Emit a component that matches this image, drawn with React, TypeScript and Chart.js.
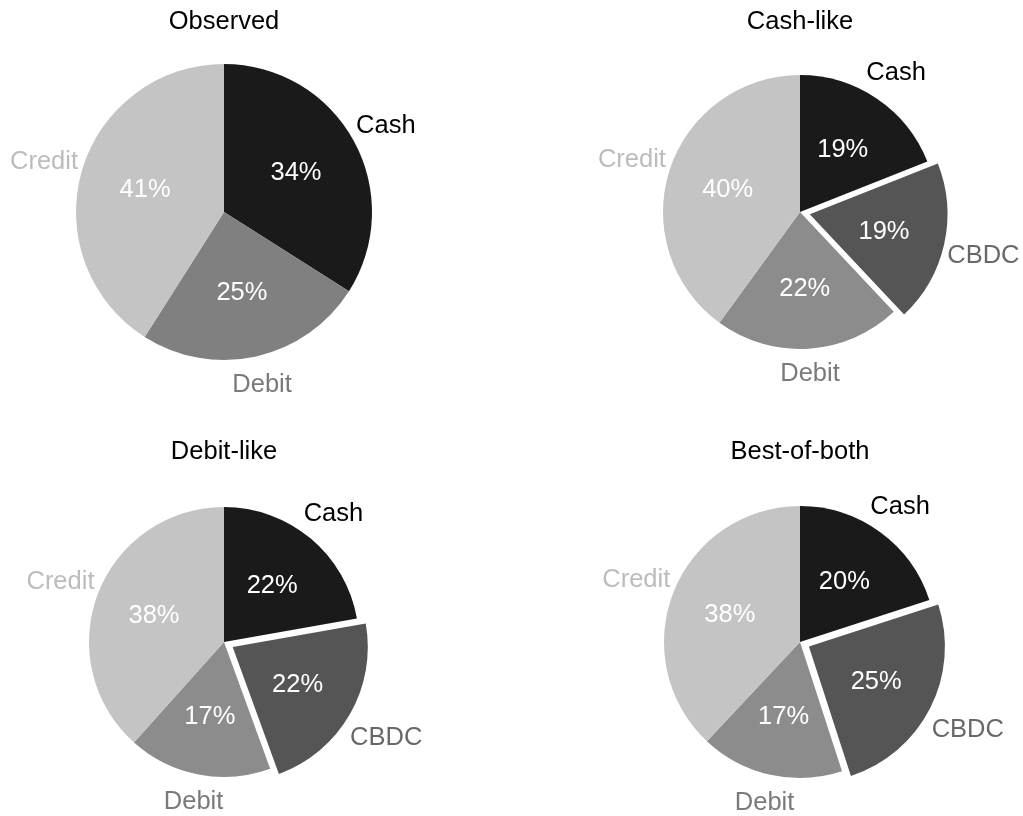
import React, { useEffect, useRef } from "react";
import { Chart, registerables } from "chart.js";

Chart.register(...registerables);

// ---- data ----
const chartTitles = ["Observed", "Cash-like", "Debit-like", "Best-of-both"];
const observedCategories = ["Cash", "Debit", "Credit"];
const scenarioCategories = ["Cash", "CBDC", "Debit", "Credit"];
const observedValues = [34, 25, 41];
const cashLikeValues = [19, 19, 22, 40];
const debitLikeValues = [22, 22, 17, 38];
const bestOfBothValues = [20, 25, 17, 38];
const explodedCategory = "CBDC";

// ---- styles ----
const FONT = '"Liberation Sans", Arial, Helvetica, sans-serif';
const FONT_SIZE = 25.5;
const sliceColors: Record<string, string> = {
  Cash: "#1a1a1a",
  CBDC: "#555555",
  Debit: "#8c8c8c",
  Credit: "#c4c4c4",
};
const observedDebitColor = "#808080";
const labelColors: Record<string, string> = {
  Cash: "#000000",
  CBDC: "#686868",
  Debit: "#7a7a7a",
  Credit: "#bcbcbc",
};

type PieSpec = {
  title: string;
  categories: string[];
  values: number[];
  radius: number;
  left: number;
  top: number;
  observed: boolean;
};

const CANVAS_W = 448;
const CANVAS_H = 424;

const pieSpecs: PieSpec[] = [
  { title: chartTitles[0], categories: observedCategories, values: observedValues, radius: 148, left: 0, top: 0, observed: true },
  { title: chartTitles[1], categories: scenarioCategories, values: cashLikeValues, radius: 137, left: 576, top: 0, observed: false },
  { title: chartTitles[2], categories: scenarioCategories, values: debitLikeValues, radius: 135, left: 0, top: 430, observed: false },
  { title: chartTitles[3], categories: scenarioCategories, values: bestOfBothValues, radius: 136, left: 576, top: 430, observed: false },
];

function makeLabelPlugin(spec: PieSpec) {
  return {
    id: "pieLabels",
    afterDatasetsDraw(chart: any) {
      const ctx: CanvasRenderingContext2D = chart.ctx;
      const meta = chart.getDatasetMeta(0);
      ctx.save();
      ctx.font = `${FONT_SIZE}px ${FONT}`;
      // title
      ctx.fillStyle = "#000000";
      ctx.textAlign = "center";
      ctx.textBaseline = "alphabetic";
      const cx = (chart.chartArea.left + chart.chartArea.right) / 2;
      ctx.fillText(spec.title, cx, 29);

      ctx.textBaseline = "middle";
      meta.data.forEach((el: any, i: number) => {
        const p = el.getProps(["x", "y", "startAngle", "endAngle", "outerRadius"], true);
        const mid = (p.startAngle + p.endAngle) / 2;
        const shift = (el.options.offset || 0) / 4;
        const r = p.outerRadius;
        const ux = Math.cos(mid);
        const uy = Math.sin(mid);
        // percentage inside
        const v = chart.data.datasets[0].data[i];
        const pd = 0.555 * r + shift;
        ctx.fillStyle = "#ffffff";
        ctx.textAlign = "center";
        ctx.fillText(`${v}%`, p.x + ux * pd, p.y + uy * pd + 1);
        // category label outside
        const label = chart.data.labels[i];
        const halfW = ctx.measureText(label).width / 2;
        const ld = r + shift + 1.5 + halfW * Math.abs(ux) + 19 * Math.abs(uy);
        ctx.fillStyle = labelColors[label];
        ctx.fillText(label, p.x + ux * ld, p.y + uy * ld + 2.5);
      });
      ctx.restore();
    },
  };
}

function PieCanvas({ spec }: { spec: PieSpec }) {
  const ref = useRef<HTMLCanvasElement | null>(null);
  useEffect(() => {
    if (!ref.current) return;
    const colors = spec.categories.map((c) =>
      spec.observed && c === "Debit" ? observedDebitColor : sliceColors[c]
    );
    const offsets = spec.categories.map((c) => (c === explodedCategory ? 40 : 0));
    const chart = new Chart(ref.current, {
      type: "pie",
      data: {
        labels: spec.categories,
        datasets: [
          {
            data: spec.values,
            backgroundColor: colors,
            borderWidth: 0,
            offset: offsets,
            radius: spec.radius,
          } as any,
        ],
      },
      options: {
        responsive: false,
        animation: false,
        devicePixelRatio: 1,
        layout: { padding: 0 },
        plugins: {
          legend: { display: false },
          title: { display: false },
          tooltip: { enabled: false },
        },
        events: [],
      } as any,
      plugins: [makeLabelPlugin(spec)],
    });
    return () => chart.destroy();
  }, [spec]);
  return (
    <canvas
      ref={ref}
      width={CANVAS_W}
      height={CANVAS_H}
      style={{
        position: "absolute",
        left: spec.left,
        top: spec.top,
        width: CANVAS_W,
        height: CANVAS_H,
      }}
    />
  );
}

export default function App() {
  return (
    <div
      style={{
        position: "absolute",
        left: 0,
        top: 0,
        width: 1023,
        height: 816,
        overflow: "hidden",
        background: "#ffffff",
      }}
    >
      {pieSpecs.map((s) => (
        <PieCanvas key={s.title} spec={s} />
      ))}
    </div>
  );
}
